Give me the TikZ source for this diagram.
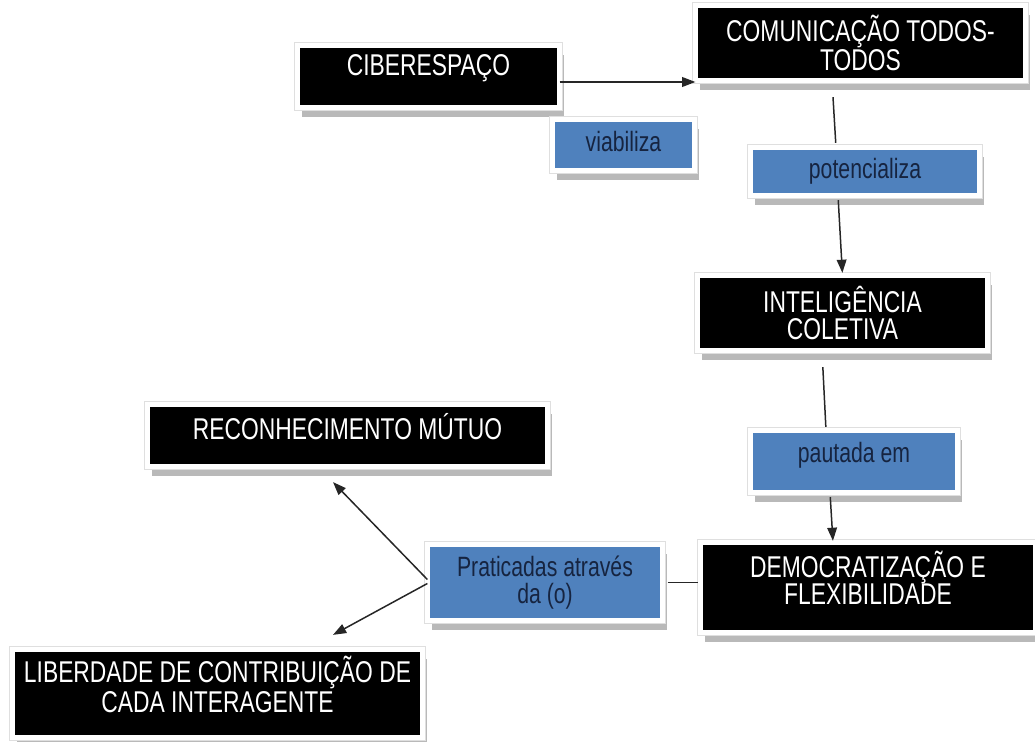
\documentclass[tikz,border=0pt]{standalone}
\usepackage{fontspec}
\setmainfont[FakeStretch=0.76]{Liberation Sans}
\usetikzlibrary{shadows,arrows.meta}
\definecolor{boxblue}{RGB}{79,129,189}
\definecolor{navytext}{RGB}{22,36,64}

\tikzset{
  framebox/.style={outer sep=0pt,
    drop shadow={shadow xshift=2.6pt, shadow yshift=-5.3pt, fill=gray!55, opacity=1},
    preaction={draw=gray!25, line width=3.8pt},
    draw=white, line width=3pt},
  blackbox/.style={framebox, fill=black},
  bluebox/.style={framebox, fill=boxblue},
  wtext/.style={text=white, align=center, inner sep=0pt,
    font=\fontsize{17.1}{15.5}\selectfont},
  btext/.style={wtext, text=navytext, font=\fontsize{15.9}{15.5}\selectfont},
  link/.style={line width=0.85pt, black!85},
  arr/.style={link, -{Triangle[length=7.5pt,width=5.5pt]}}
}

\begin{document}
\begin{tikzpicture}
  \useasboundingbox (0,0) rectangle (20.7,-14.84);

  % concepts
  \node[blackbox, minimum width=5.245cm, minimum height=1.245cm,
    label={[wtext, yshift=0.17cm]center:CIBERESPAÇO}] (cib) at (8.57,-1.53) {};
  \node[blackbox, minimum width=6.605cm, minimum height=1.505cm,
    label={[wtext]center:COMUNICAÇÃO TODOS-\\TODOS}] (com) at (17.21,-0.86) {};
  \node[blackbox, minimum width=5.805cm, minimum height=1.505cm,
    label={[wtext]center:INTELIGÊNCIA\\COLETIVA}] (inte) at (16.85,-6.26) {};
  \node[blackbox, minimum width=6.705cm, minimum height=1.805cm,
    label={[wtext, yshift=0.2cm]center:DEMOCRATIZAÇÃO E\\FLEXIBILIDADE}] (dem) at (17.36,-11.75) {};
  \node[blackbox, minimum width=8.005cm, minimum height=1.245cm,
    label={[wtext, yshift=0.17cm]center:RECONHECIMENTO MÚTUO}] (rec) at (6.95,-8.71) {};
  \node[blackbox, minimum width=8.205cm, minimum height=1.765cm,
    label={[wtext, yshift=0.18cm]center:LIBERDADE DE CONTRIBUIÇÃO DE\\CADA INTERAGENTE}] (lib) at (4.35,-13.87) {};

  % linking phrases
  \node[bluebox, minimum width=2.845cm, minimum height=1.025cm,
    label={[btext, yshift=0.06cm]center:viabiliza}] (via) at (12.47,-2.90) {};
  \node[bluebox, minimum width=4.585cm, minimum height=0.965cm,
    label={[btext]center:potencializa}] (pot) at (17.30,-3.43) {};
  \node[bluebox, minimum width=4.145cm, minimum height=1.245cm,
    label={[btext, yshift=0.13cm]center:pautada em}] (pau) at (17.08,-9.23) {};
  \node[bluebox, minimum width=4.705cm, minimum height=1.525cm,
    label={[btext]center:Praticadas através\\da (o)}] (prat) at (10.9,-11.65) {};

  % connectors
  \draw[arr] ([yshift=-0.11cm]cib.east) -- ([yshift=-0.11cm]cib.east -| com.west);
  \draw[link, shorten <=0.33cm, shorten >=0.09cm] ([xshift=-0.57cm]com.south) -- ([xshift=-0.58cm]pot.north);
  \draw[arr, shorten <=0.09cm, shorten >=0.05cm] ([xshift=-0.54cm]pot.south) -- (inte.north);
  \draw[link, shorten <=0.33cm, shorten >=0.07cm] ([xshift=-0.41cm]inte.south) -- ([xshift=-0.56cm]pau.north);
  \draw[arr, shorten <=0.09cm, shorten >=0.03cm] ([xshift=-0.48cm]pau.south) -- ([xshift=-0.7cm]dem.north);
  \draw[link, shorten <=0.1cm, shorten >=0.05cm] (prat.east) -- (prat.east -| dem.west);
  \draw[arr] ([yshift=0.06cm]prat.west) -- ([shift={(-0.29,-0.31)}]rec.south);
  \draw[arr] ([yshift=-0.02cm]prat.west) -- ([shift={(2.31,0.29)}]lib.north);
\end{tikzpicture}
\end{document}
